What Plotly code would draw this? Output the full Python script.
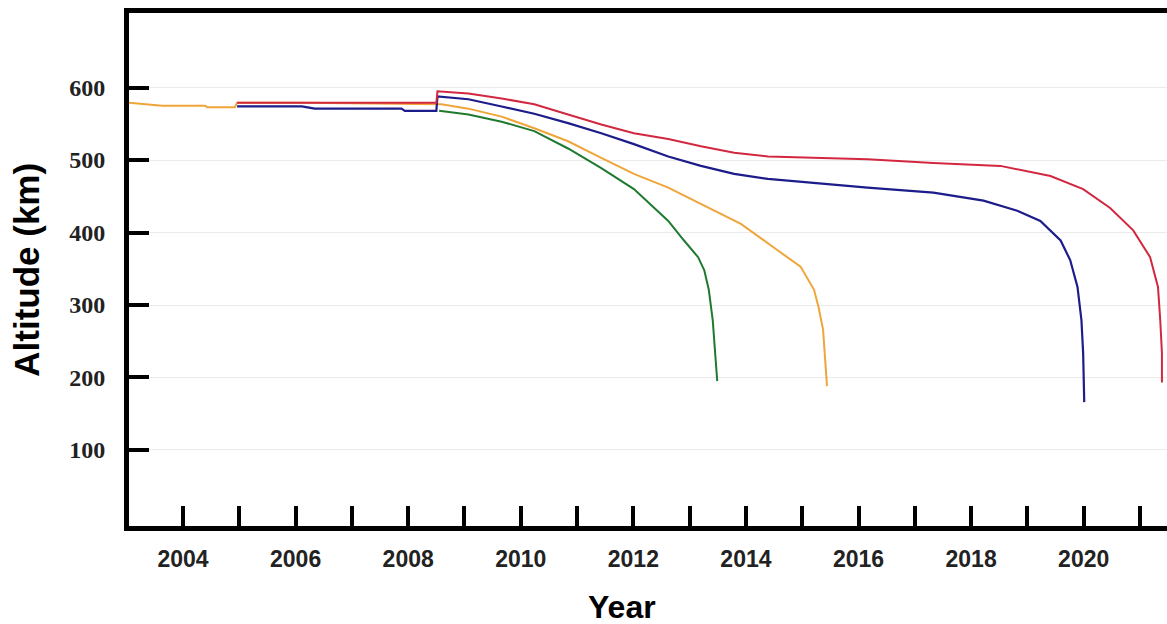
import plotly.graph_objects as go

# ---- data ----
red_x = [2004.96, 2007.88, 2008.50, 2008.52, 2009.07, 2009.66, 2010.24, 2010.84, 2011.43, 2012.01,
         2012.62, 2013.20, 2013.79, 2014.39, 2014.97, 2016.16, 2017.33, 2018.52, 2019.41, 2019.99,
         2020.47, 2020.88, 2021.18, 2021.32, 2021.36, 2021.39, 2021.39]
red_y = [579, 579, 579, 595, 592, 585, 577, 563, 549, 537,
         529, 519, 510, 505, 504, 501, 496, 492, 478, 460,
         434, 403, 366, 325, 279, 234, 193]

blue_x = [2004.96, 2006.11, 2006.34, 2007.88, 2007.94, 2008.50, 2008.52, 2009.07, 2009.66, 2010.24,
          2010.84, 2011.43, 2012.01, 2012.62, 2013.20, 2013.79, 2014.39, 2014.97, 2016.16, 2017.33,
          2018.22, 2018.82, 2019.23, 2019.59, 2019.76, 2019.89, 2019.96, 2019.99, 2020.01]
blue_y = [574, 574, 571, 571, 568, 568, 588, 584, 574, 564,
          551, 537, 522, 505, 492, 481, 474, 470, 462, 455,
          444, 430, 416, 389, 362, 325, 279, 234, 166]

orange_x = [2003.04, 2003.63, 2004.39, 2004.43, 2004.92, 2004.96, 2006.11, 2007.88, 2008.50, 2008.59,
            2009.07, 2009.66, 2010.24, 2010.84, 2011.43, 2012.01, 2012.62, 2013.20, 2013.91, 2014.50,
            2014.97, 2015.21, 2015.29, 2015.37, 2015.40, 2015.44]
orange_y = [579, 575, 575, 573, 573, 579, 579, 578, 577, 577,
            571, 560, 544, 526, 503, 481, 462, 440, 412, 379,
            353, 321, 297, 266, 234, 188]

green_x = [2008.55, 2009.07, 2009.66, 2010.24, 2010.84, 2011.43, 2012.01, 2012.62, 2012.90, 2013.15,
           2013.26, 2013.34, 2013.41, 2013.45, 2013.49]
green_y = [568, 563, 553, 540, 516, 489, 460, 416, 389, 366,
           348, 321, 279, 242, 195]

year_ticks = list(range(2004, 2022))
year_labels = [str(y) if y % 2 == 0 else "" for y in year_ticks]
alt_ticks = [100, 200, 300, 400, 500, 600]

fig = go.Figure()
fig.add_trace(go.Scatter(x=orange_x, y=orange_y, mode="lines", line=dict(color="#f0a53a", width=2)))
fig.add_trace(go.Scatter(x=green_x, y=green_y, mode="lines", line=dict(color="#1f7a30", width=2)))
fig.add_trace(go.Scatter(x=blue_x, y=blue_y, mode="lines", line=dict(color="#1c1c8a", width=2.2)))
fig.add_trace(go.Scatter(x=red_x, y=red_y, mode="lines", line=dict(color="#d2283f", width=2)))

fig.update_layout(
    width=1167, height=624,
    margin=dict(l=129, r=0, t=13, b=98),
    paper_bgcolor="white", plot_bgcolor="white",
    showlegend=False,
    xaxis=dict(
        range=[2003.04, 2021.48],
        tickvals=year_ticks, ticktext=year_labels,
        ticks="inside", ticklen=20, tickwidth=4, tickcolor="black",
        showline=True, linewidth=5, linecolor="black", mirror=True,
        showgrid=False, zeroline=False,
        tickfont=dict(family="Liberation Sans, Arial", size=23, color="#222", weight="bold"),
        ticklabelstandoff=8,
    ),
    yaxis=dict(
        range=[-5, 703],
        tickvals=alt_ticks,
        ticks="inside", ticklen=20, tickwidth=4, tickcolor="black",
        showline=True, linewidth=5, linecolor="black",
        showgrid=True, gridcolor="#ebebeb", gridwidth=1, zeroline=False,
        tickfont=dict(family="Liberation Serif, Times New Roman", size=24, color="#222", weight="bold"),
        ticklabelstandoff=14,
    ),
    annotations=[
        dict(text="Altitude (km)", xref="paper", yref="paper", x=-0.099, y=0.50,
             xanchor="center", yanchor="middle", textangle=-90, showarrow=False,
             font=dict(family="Liberation Sans, Arial", size=35, color="black", weight="bold")),
        dict(text="Year", xref="paper", yref="paper", x=0.475, y=-0.158,
             xanchor="center", yanchor="middle", showarrow=False,
             font=dict(family="Liberation Sans, Arial", size=32, color="black", weight="bold")),
    ],
)

fig.write_html("out.html", config={"displayModeBar": False},
               post_script="document.body.style.margin='0px';document.body.style.overflow='hidden';")
